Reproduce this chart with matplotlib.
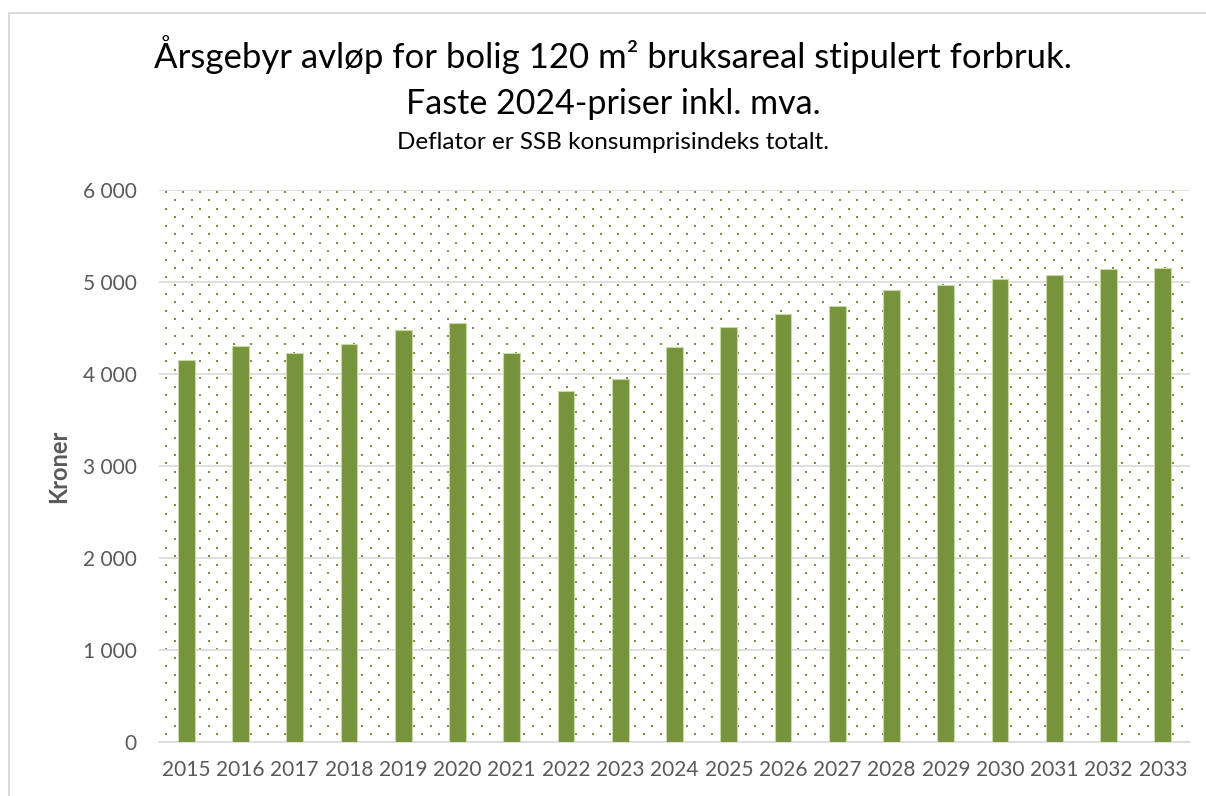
import numpy as np
import matplotlib
matplotlib.use("Agg")
import matplotlib.pyplot as plt

# data
years = [str(y) for y in range(2015, 2034)]
kroner = [4152, 4301, 4225, 4323, 4482, 4554, 4228, 3818, 3942, 4290,
          4511, 4649, 4742, 4910, 4967, 5033, 5076, 5141, 5152]
yticks = [0, 1000, 2000, 3000, 4000, 5000, 6000]

title1 = "Årsgebyr avløp for bolig 120 m² bruksareal stipulert forbruk."
title2 = "Faste 2024-priser inkl. mva."
title3 = "Deflator er SSB konsumprisindeks totalt."

GREEN = "#77933C"
GREY = "#595959"
W, H = 1206, 796

plt.rcParams['font.family'] = ['Lato', 'DejaVu Sans']

fig = plt.figure(figsize=(W / 100, H / 100), dpi=100)
ax = fig.add_axes([159 / W, 54 / H, (1190 - 159) / W, 552 / H])

# chart border (light grey frame)
fig.add_artist(plt.Line2D([9 / W, 9 / W], [0, 1 - 13 / H], color="#d9d9d9",
                          lw=1.5, transform=fig.transFigure))
fig.add_artist(plt.Line2D([9 / W, 1], [1 - 13 / H, 1 - 13 / H], color="#d9d9d9",
                          lw=1.5, transform=fig.transFigure))

# dotted plot-area fill, staggered lattice in pixel steps
aw, ah = 1190 - 159, 552
dx, dy = 17.07, 8.47
px, py = [], []
for r, yy in enumerate(np.arange(2, ah, dy)):
    x0 = 7 if r % 2 == 0 else 7 + dx / 2
    for xx in np.arange(x0, aw, dx):
        px.append(xx / aw)
        py.append(1 - yy / ah)
ax.scatter(px, py, s=4, marker='s', color=GREEN, linewidths=0,
           transform=ax.transAxes, zorder=1)

x = np.arange(len(years))
ax.bar(x, kroner, width=0.31, color=GREEN, edgecolor="#c9d9a6",
       linewidth=0.8, zorder=3)

ax.set_xlim(-0.5, len(years) - 0.5)
ax.set_ylim(0, 6000)
ax.set_yticks(yticks)
ax.set_yticklabels([f"{v:,}".replace(",", " ") for v in yticks])
ax.set_xticks(x)
ax.set_xticklabels(years)
ax.tick_params(length=0, colors=GREY, labelsize=15)
ax.tick_params(axis='y', pad=16)
ax.tick_params(axis='x', pad=13)
ax.grid(axis='y', color="#d9d9d9", linewidth=1.2, zorder=2)
ax.set_axisbelow(False)
for s in ['top', 'right', 'left']:
    ax.spines[s].set_visible(False)
ax.spines['bottom'].set_color("#d9d9d9")
ax.spines['bottom'].set_linewidth(1.2)
ax.set_ylabel("Kroner", fontsize=17, fontweight='bold', color=GREY, labelpad=9)

fig.text(613 / W, 1 - 68 / H, title1, ha='center', va='baseline', fontsize=25)
fig.text(613 / W, 1 - 114 / H, title2, ha='center', va='baseline', fontsize=24.5)
fig.text(613 / W, 1 - 149 / H, title3, ha='center', va='baseline', fontsize=17.5)

fig.savefig("out.png", dpi=100)
